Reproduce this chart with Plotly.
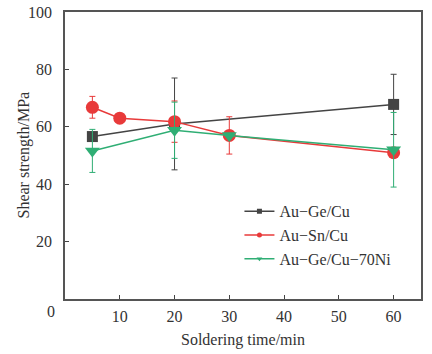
import plotly.graph_objects as go

ge_x = [5, 20, 60]
ge_y = [56.6, 61.0, 67.8]
ge_err = [1.5, 16.0, 10.5]

sn_x = [5, 10, 20, 30, 60]
sn_y = [66.8, 63.0, 61.8, 57.0, 51.0]
sn_err = [3.8, 0.0, 7.2, 6.5, 1.5]

ni_x = [5, 20, 30, 60]
ni_y = [51.6, 58.8, 57.0, 52.0]
ni_err = [7.5, 9.8, 0.0, 13.0]

names = ["Au\u2212Ge/Cu", "Au\u2212Sn/Cu", "Au\u2212Ge/Cu\u221270Ni"]
colors = ["#444444", "#e83a3a", "#2fae74"]

fig = go.Figure()
specs = [(ge_x, ge_y, ge_err, "square", 11), (sn_x, sn_y, sn_err, "circle", 13), (ni_x, ni_y, ni_err, "triangle-down", 13)]
for (x, y, e, sym, sz), nm, c in zip(specs, names, colors):
    fig.add_trace(go.Scatter(
        x=x, y=y, name=nm, mode="lines+markers", showlegend=False,
        line=dict(color=c, width=1.5),
        marker=dict(symbol=sym, size=sz, color=c),
        error_y=dict(type="data", array=e, color=c, thickness=1, width=3, visible=True),
    ))
# legend entries with small symbols, as in the original
for (x, y, e, sym, sz), nm, c in zip(specs, names, colors):
    fig.add_trace(go.Scatter(
        x=[None], y=[None], name=nm, mode="lines+markers",
        line=dict(color=c, width=1.5),
        marker=dict(symbol=sym, size=5, color=c),
    ))

font = "Liberation Serif, Times New Roman, serif"
fig.update_layout(
    width=432, height=354,
    margin=dict(l=65, r=11, t=12, b=55),
    paper_bgcolor="white", plot_bgcolor="white",
    font=dict(family=font, size=16, color="#333333"),
    showlegend=True,
    legend=dict(x=0.49, y=0.365, xanchor="left", yanchor="top", bgcolor="rgba(0,0,0,0)",
                font=dict(size=16), itemwidth=30, tracegroupgap=0),
    xaxis=dict(range=[0, 65], tickvals=[10, 20, 30, 40, 50, 60], ticks="inside", ticklen=4,
               showline=True, linecolor="#555555", linewidth=1.5, mirror=True, showgrid=False,
               zeroline=False, ticklabelstandoff=2, automargin=False),
    yaxis=dict(range=[0, 100], tickvals=[20, 40, 60, 80, 100], ticks="inside", ticklen=4,
               showline=True, linecolor="#555555", linewidth=1.5, mirror=True, showgrid=False,
               zeroline=False, ticklabelstandoff=8, automargin=False),
)
fig.add_annotation(x=0, y=0, xref="paper", yref="paper", text="0", showarrow=False,
                   xanchor="right", yanchor="top", xshift=-8, yshift=-2, font=dict(size=16))
fig.add_annotation(x=0.5, y=0, xref="paper", yref="paper", text="Soldering time/min", showarrow=False,
                   xanchor="center", yanchor="top", yshift=-30, font=dict(size=16))
fig.add_annotation(x=0, y=0.5, xref="paper", yref="paper", text="Shear strength/MPa", showarrow=False,
                   xanchor="center", yanchor="middle", xshift=-42, textangle=-90, font=dict(size=16))
fig.write_html("out.html")
